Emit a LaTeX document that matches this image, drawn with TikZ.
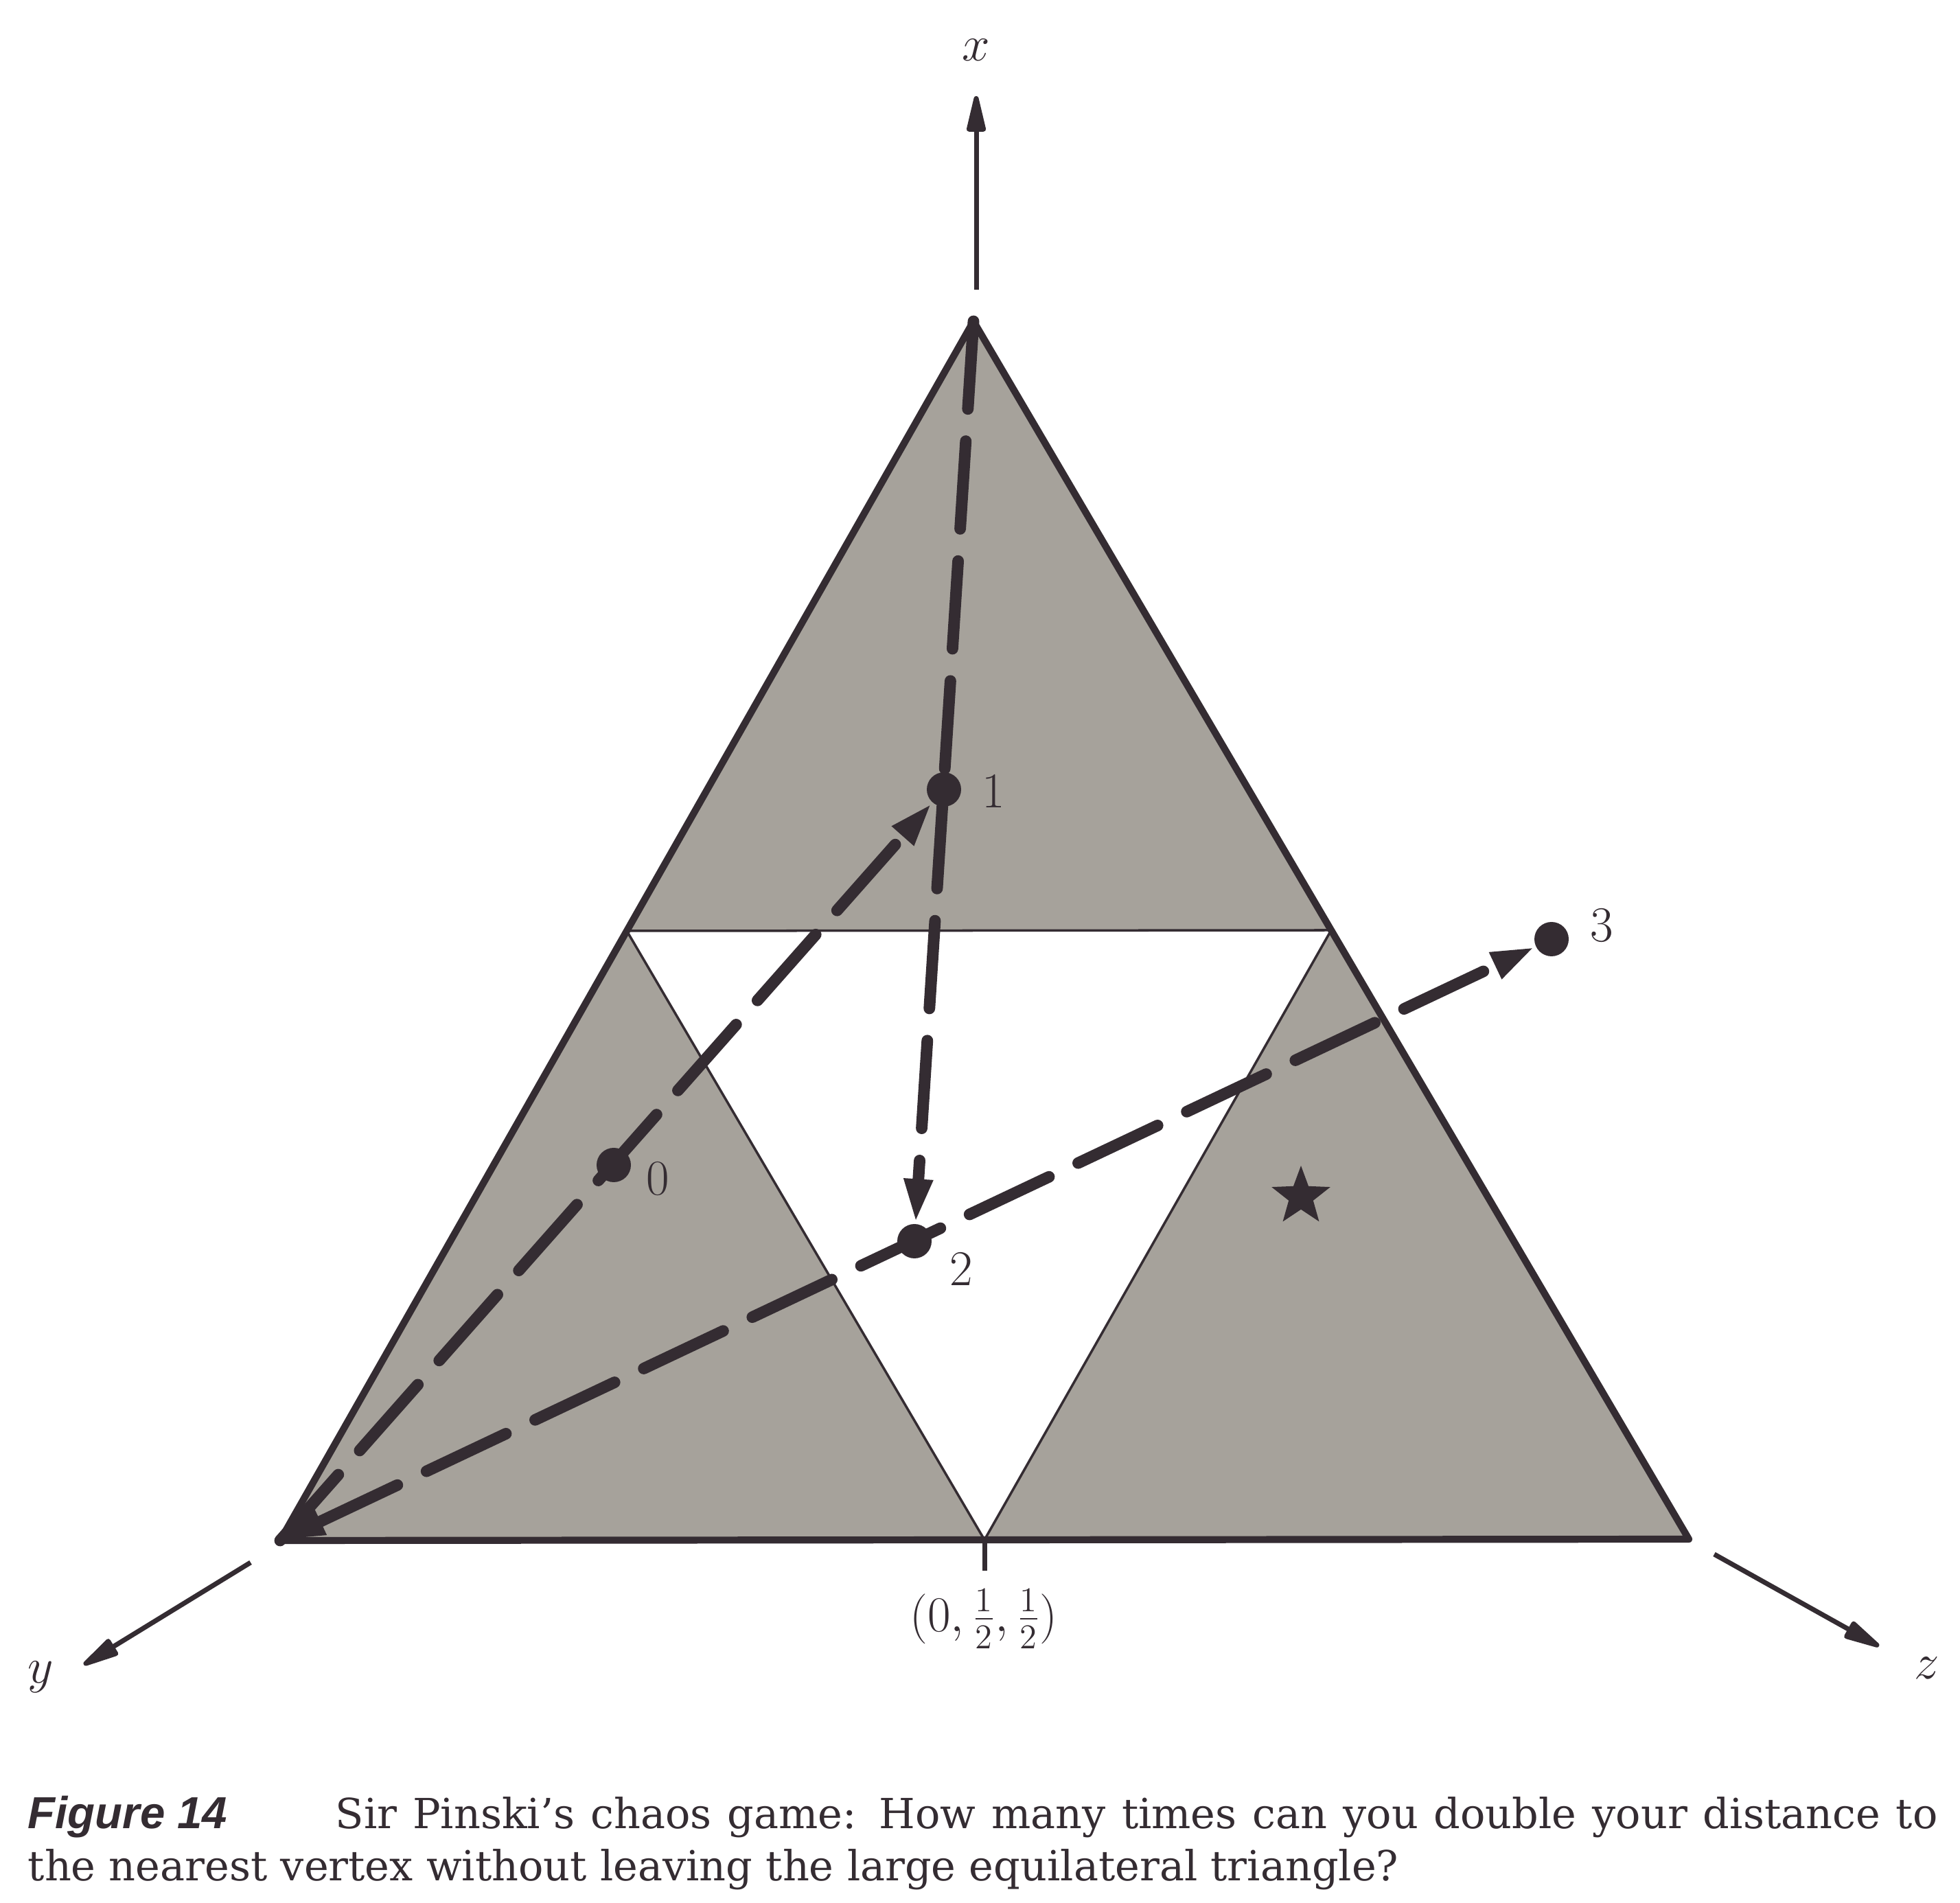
\documentclass[tikz,border=0pt]{standalone}
\usepackage{fontspec}
\usepackage{tikz}
\usetikzlibrary{arrows.meta,shapes.geometric}
\newfontfamily\capfont{DejaVu Serif}
\newfontfamily\figfont{Liberation Sans}
\definecolor{ink}{RGB}{52,44,50}
\definecolor{screen}{RGB}{166,162,155}

\begin{document}
\begin{tikzpicture}[
      game path/.style ={line width=4.8pt, color=ink, line cap=round, dash pattern=on 1.28cm off 0.47cm},
      game tip/.style ={-{Triangle[length=6.5mm,width=3.8mm]}},
      game dot/.style ={circle, fill=ink, inner sep=0pt, minimum size=0.5cm},
      axis line/.style ={line width=2pt, color=ink, -{Triangle[length=6.5mm,width=2.8mm,round]}},
      tag/.style ={text=ink, inner sep=0pt, font=\fontsize{20.74}{24}\selectfont}]
    \useasboundingbox (0,0) rectangle (28.55,27.71);
    % corners and midpoints of the big triangle
    \coordinate (X) at (14.18,23.03);
    \coordinate (Y) at (4.08,5.27);
    \coordinate (Z) at (24.60,5.29);
    \coordinate (XY) at (9.13,14.15);
    \coordinate (XZ) at (19.39,14.16);
    \coordinate (YZ) at (14.34,5.28);
    \coordinate (tick) at (14.34,4.83);

    \fill[screen] (X) -- (Y) -- (Z) -- cycle;
    \filldraw[fill=white, draw=ink, line width=1pt] (XY) -- (XZ) -- (YZ) -- cycle;
    \draw[ink, line width=2.9pt, line join=round] (X) -- (Y) -- (Z) -- cycle;
    \draw[ink, line width=2pt] (YZ) -- (tick);
    \node[tag] (mid) at (14.33,4.13) {$(0,\frac{1}{2},\frac{1}{2})$};

    % axes
    \coordinate (x0) at (14.22,23.49);
    \coordinate (x1) at (14.22,26.31);
    \coordinate (y0) at (3.65,4.95);
    \coordinate (y1) at (1.22,3.46);
    \coordinate (z0) at (24.97,5.07);
    \coordinate (z1) at (27.37,3.73);
    \draw[axis line] (x0) -- (x1);
    \draw[axis line] (y0) -- (y1);
    \draw[axis line] (z0) -- (z1);
    \node[tag] (xl) at (14.22,26.98) {$x$};
    \node[tag] (yl) at (0.59,3.28) {$y$};
    \node[tag] (zl) at (28.07,3.41) {$z$};

    % the moves
    \node[game dot] (p0) at (8.94,10.74) {};
    \node[game dot] (p1) at (13.75,16.21) {};
    \node[game dot] (p2) at (13.32,9.63) {};
    \node[game dot] (p3) at (22.60,14.03) {};
    \draw[game path, game tip] (Y) -- (p1);
    \draw[game path, game tip] (X) -- (p2);
    \draw[game path, {Triangle[length=6.5mm,width=3.8mm]}-{Triangle[length=6.5mm,width=3.8mm]}] (Y) -- (p3);
    \node[tag] (n0) at (9.58,10.54) {0};
    \node[tag] (n1) at (14.47,16.19) {1};
    \node[tag] (n2) at (14.00,9.23) {2};
    \node[tag] (n3) at (23.33,14.23) {3};
    \node[star, star points=5, star point ratio=2.4, fill=ink, inner sep=0pt, minimum size=0.9cm] (star) at (18.95,10.28) {};

    \node[anchor=base west, text width=27.82cm, align=justify, inner sep=0pt, text=ink,
          font=\capfont\fontsize{17.2}{21.9}\selectfont] (caption) at (0.40,1.08)
      {\makebox[4.48cm][l]{\figfont\fontsize{18.6}{21.9}\selectfont\bfseries\itshape Figure 14}Sir Pinski’s chaos game: How many times can you double your distance to\linebreak the nearest vertex without leaving the large equilateral triangle?};
    \end{tikzpicture}
\end{document}
